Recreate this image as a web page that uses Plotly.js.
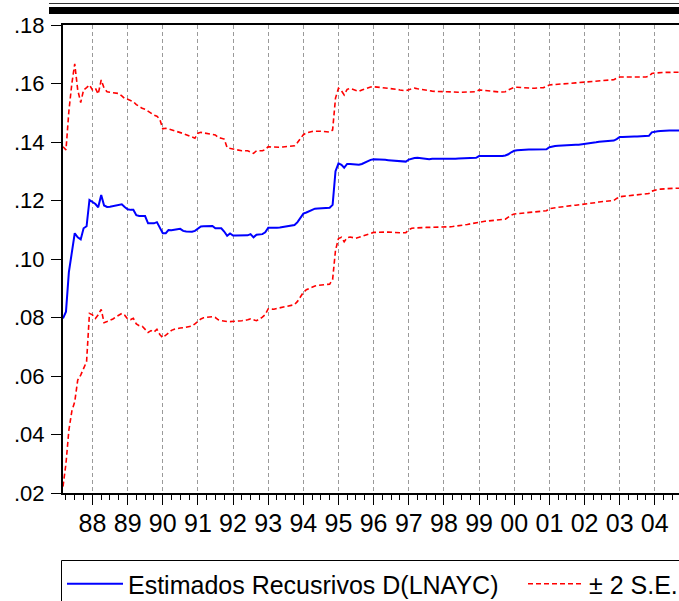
<!DOCTYPE html>
<html>
<head>
<meta charset="utf-8">
<script src="https://cdn.plot.ly/plotly-3.0.1.min.js"></script>
<style>
html,body{margin:0;padding:0;overflow:hidden;background:#fff;}
#chart{width:700px;height:620px;}
</style>
</head>
<body>
<div id="chart"></div>
<script>
// Monthly observations, first one 1987-03
const startYear = 1987;
const startMonth = 3;

// Recursive estimate of D(LNAYC)
const estimate = [
  // 1987 (Mar-Dec)
  .0797,.0820,.0955,.1030,.1088,.1074,.1067,.1105,.1112,.1202,
  // 1988
  .1196,.1188,.1177,.1219,.1183,.1178,.1179,.1181,.1184,.1186,.1187,.1178,
  // 1989
  .1170,.1168,.1168,.1150,.1147,.1147,.1147,.1122,.1122,.1122,.1126,.1108,
  // 1990
  .1088,.1088,.1099,.1098,.1101,.1102,.1103,.1096,.1094,.1093,.1093,.1096,
  // 1991
  .1105,.1111,.1112,.1113,.1113,.1113,.1105,.1104,.1105,.1094,.1079,.1087,
  // 1992
  .1080,.1080,.1080,.1081,.1081,.1081,.1085,.1074,.1083,.1084,.1085,.1091,
  // 1993
  .1107,.1107,.1106,.1107,.1108,.1110,.1112,.1114,.1115,.1116,.1126,.1140,
  // 1994
  .1155,.1159,.1163,.1170,.1172,.1173,.1174,.1174,.1175,.1175,.1185,.1300,
  // 1995
  .1327,.1322,.1312,.1325,.1325,.1324,.1322,.1322,.1325,.1330,.1336,.1339,
  // 1996
  .1341,.1341,.1340,.1340,.1339,.1338,.1337,.1336,.1335,.1334,.1334,.1333,
  // 1997
  .1340,.1344,.1345,.1346,.1345,.1344,.1343,.1341,.1343,.1343,.1342,.1341,
  // 1998
  .1342,.1342,.1343,.1343,.1343,.1344,.1344,.1344,.1345,.1345,.1346,.1346,
  // 1999
  .1352,.1352,.1351,.1351,.1351,.1351,.1352,.1352,.1352,.1354,.1358,.1365,
  // 2000
  .1370,.1372,.1373,.1373,.1374,.1374,.1374,.1374,.1375,.1375,.1375,.1375,
  // 2001
  .1382,.1385,.1386,.1387,.1388,.1389,.1389,.1390,.1390,.1391,.1391,.1392,
  // 2002
  .1393,.1394,.1395,.1397,.1399,.1401,.1402,.1402,.1403,.1403,.1405,.1410,
  // 2003
  .1417,.1417,.1418,.1418,.1418,.1419,.1419,.1419,.1420,.1420,.1421,.1433,
  // 2004
  .1436,.1437,.1438,.1439,.1439,.1439,.1439,.1439,.1439,.1440,.1440,.1440
];

// Upper band (+2 S.E.)
const upperBand = [
  // 1987
  .1384,.1373,.1505,.1600,.1667,.1578,.1535,.1578,.1586,.1595,
  // 1988
  .1578,.1584,.1564,.1612,.1584,.1572,.1570,.1569,.1568,.1566,.1558,.1549,
  // 1989
  .1546,.1542,.1538,.1528,.1520,.1515,.1512,.1505,.1500,.1492,.1488,.1478,
  // 1990
  .1445,.1447,.1445,.1442,.1440,.1437,.1433,.1429,.1425,.1421,.1417,.1413,
  // 1991
  .1430,.1433,.1431,.1430,.1428,.1426,.1424,.1415,.1413,.1410,.1380,.1378,
  // 1992
  .1376,.1374,.1371,.1370,.1370,.1370,.1366,.1361,.1370,.1370,.1370,.1374,
  // 1993
  .1384,.1383,.1382,.1381,.1382,.1383,.1384,.1385,.1386,.1387,.1398,.1412,
  // 1994
  .1425,.1431,.1434,.1436,.1437,.1438,.1437,.1436,.1435,.1434,.1441,.1550,
  // 1995
  .1584,.1575,.1561,.1580,.1583,.1580,.1575,.1573,.1578,.1582,.1586,.1588,
  // 1996
  .1589,.1588,.1587,.1586,.1585,.1584,.1584,.1582,.1580,.1578,.1576,.1575,
  // 1997
  .1579,.1583,.1584,.1582,.1580,.1578,.1576,.1575,.1574,.1573,.1572,.1572,
  // 1998
  .1572,.1572,.1571,.1571,.1571,.1570,.1570,.1570,.1570,.1570,.1570,.1572,
  // 1999
  .1578,.1577,.1575,.1574,.1573,.1572,.1570,.1571,.1571,.1572,.1578,.1583,
  // 2000
  .1587,.1587,.1586,.1586,.1585,.1585,.1584,.1584,.1584,.1584,.1586,.1590,
  // 2001
  .1595,.1596,.1597,.1598,.1598,.1599,.1600,.1601,.1601,.1602,.1603,.1604,
  // 2002
  .1605,.1606,.1607,.1608,.1609,.1610,.1611,.1611,.1612,.1612,.1613,.1618,
  // 2003
  .1622,.1622,.1622,.1621,.1621,.1621,.1621,.1621,.1621,.1622,.1625,.1634,
  // 2004
  .1636,.1637,.1637,.1638,.1638,.1638,.1638,.1638,.1638,.1639,.1639,.1639
];

// Lower band (-2 S.E.)
const lowerBand = [
  // 1987
  .0222,.0301,.0415,.0480,.0512,.0586,.0603,.0625,.0649,.0814,
  // 1988
  .0809,.0797,.0809,.0828,.0782,.0786,.0790,.0795,.0802,.0809,.0814,.0808,
  // 1989
  .0795,.0793,.0797,.0778,.0772,.0770,.0760,.0749,.0755,.0750,.0760,.0742,
  // 1990
  .0731,.0740,.0749,.0756,.0760,.0763,.0764,.0765,.0767,.0769,.0771,.0778,
  // 1991
  .0788,.0795,.0799,.0801,.0802,.0803,.0800,.0792,.0789,.0787,.0786,.0786,
  // 1992
  .0786,.0787,.0788,.0789,.0790,.0792,.0795,.0792,.0789,.0795,.0801,.0810,
  // 1993
  .0830,.0829,.0828,.0831,.0833,.0836,.0838,.0840,.0842,.0844,.0855,.0870,
  // 1994
  .0886,.0895,.0900,.0905,.0908,.0910,.0911,.0912,.0913,.0914,.0930,.1030,
  // 1995
  .1070,.1074,.1059,.1073,.1075,.1073,.1071,.1074,.1077,.1080,.1083,.1088,
  // 1996
  .1091,.1091,.1092,.1092,.1092,.1092,.1091,.1091,.1090,.1090,.1090,.1090,
  // 1997
  .1100,.1105,.1106,.1107,.1107,.1107,.1108,.1108,.1108,.1108,.1108,.1108,
  // 1998
  .1108,.1109,.1110,.1111,.1112,.1113,.1114,.1116,.1118,.1120,.1122,.1123,
  // 1999
  .1127,.1128,.1129,.1130,.1131,.1132,.1132,.1133,.1133,.1136,.1143,.1150,
  // 2000
  .1154,.1155,.1157,.1158,.1159,.1160,.1161,.1162,.1163,.1164,.1165,.1165,
  // 2001
  .1172,.1174,.1176,.1177,.1178,.1179,.1181,.1182,.1183,.1184,.1185,.1186,
  // 2002
  .1188,.1189,.1190,.1192,.1193,.1195,.1196,.1197,.1198,.1199,.1200,.1207,
  // 2003
  .1213,.1214,.1215,.1216,.1217,.1218,.1219,.1220,.1221,.1222,.1224,.1232,
  // 2004
  .1236,.1238,.1239,.1240,.1241,.1241,.1242,.1242,.1242,.1242,.1243,.1243
];

const yTickValues = [0.02, 0.04, 0.06, 0.08, 0.10, 0.12, 0.14, 0.16, 0.18];
const yTickLabels = ['.02', '.04', '.06', '.08', '.10', '.12', '.14', '.16', '.18'];
const seriesNames = ['Estimados Recusrivos D(LNAYC)', '± 2 S.E.'];

const dates = estimate.map((_, i) => {
  const m = startMonth - 1 + i;
  const y = startYear + Math.floor(m / 12);
  const mm = String((m % 12) + 1).padStart(2, '0');
  return y + '-' + mm + '-01';
});

const redLine = {color: '#ff0000', width: 1.6, dash: '5px,3px'};

const traces = [
  {x: dates, y: estimate, type: 'scatter', mode: 'lines', name: seriesNames[0],
   legend: 'legend', line: {color: '#0000ff', width: 2}},
  {x: dates, y: upperBand, type: 'scatter', mode: 'lines', name: seriesNames[1],
   legend: 'legend2', legendgroup: 'se', line: redLine},
  {x: dates, y: lowerBand, type: 'scatter', mode: 'lines', name: seriesNames[1],
   legend: 'legend2', legendgroup: 'se', showlegend: false, line: redLine}
];

const W = 700, H = 620;
const L = 63, T = 25, PW = 627, PH = 468;
function py(pix) { return 1 - (pix - T) / PH; }
function px(pix) { return (pix - L) / PW; }

const legendFont = {family: 'Liberation Sans, Arial, sans-serif', size: 25, color: '#000'};

const layout = {
  width: W, height: H,
  margin: {l: L, r: W - L - PW, t: T, b: H - T - PH, pad: 0},
  paper_bgcolor: '#ffffff', plot_bgcolor: '#ffffff',
  font: {family: 'Liberation Sans, Arial, sans-serif', color: '#000000'},
  showlegend: true,
  xaxis: {
    type: 'date',
    range: ['1987-03-01', '2005-01-01'],
    dtick: 'M12', tick0: '2000-01-01', tickformat: '%y',
    ticks: 'outside', ticklen: 10, tickwidth: 1, tickcolor: '#000',
    ticklabelstandoff: -3,
    showline: true, linecolor: '#000', linewidth: 2, mirror: true,
    showgrid: true, gridcolor: '#9a9a9a', gridwidth: 1, griddash: '4px,3px',
    zeroline: false,
    tickfont: {family: 'Liberation Sans Narrow, Arial Narrow, Liberation Sans, sans-serif', size: 25, color: '#000'},
    minor: {dtick: 'M3', tick0: '2000-01-01', ticks: 'outside', ticklen: 5, tickwidth: 1, tickcolor: '#000', showgrid: false},
    fixedrange: true
  },
  yaxis: {
    range: [0.02, 0.18],
    tickmode: 'array', tickvals: yTickValues, ticktext: yTickLabels,
    ticks: 'outside', ticklen: 10, tickwidth: 1, tickcolor: '#000',
    ticklabelstandoff: 2,
    showline: true, linecolor: '#000', linewidth: 2, mirror: true,
    showgrid: false, zeroline: false,
    tickfont: {family: 'Liberation Sans, Arial, sans-serif', size: 22, color: '#000'},
    fixedrange: true
  },
  legend: {
    orientation: 'h',
    x: px(62), xanchor: 'left',
    y: py(561), yanchor: 'top',
    borderwidth: 0, bgcolor: 'rgba(0,0,0,0)',
    font: legendFont,
    itemwidth: 56
  },
  legend2: {
    orientation: 'h',
    x: px(523), xanchor: 'left',
    y: py(561), yanchor: 'top',
    borderwidth: 0, bgcolor: 'rgba(0,0,0,0)',
    font: legendFont,
    itemwidth: 56
  },
  shapes: [
    {type: 'line', xref: 'paper', yref: 'paper', x0: px(49), x1: 1.1, y0: py(3.5), y1: py(3.5),
     line: {color: '#333', width: 1}},
    {type: 'rect', xref: 'paper', yref: 'paper', x0: px(49), x1: 1.1, y0: py(7), y1: py(14),
     fillcolor: '#000', line: {width: 0}},
    {type: 'rect', xref: 'paper', yref: 'paper', x0: px(61.5), x1: 1.1, y0: py(560.5), y1: py(660),
     fillcolor: 'rgba(0,0,0,0)', line: {color: '#000', width: 1}}
  ]
};

Plotly.newPlot('chart', traces, layout, {staticPlot: true, displayModeBar: false});
</script>
</body>
</html>
